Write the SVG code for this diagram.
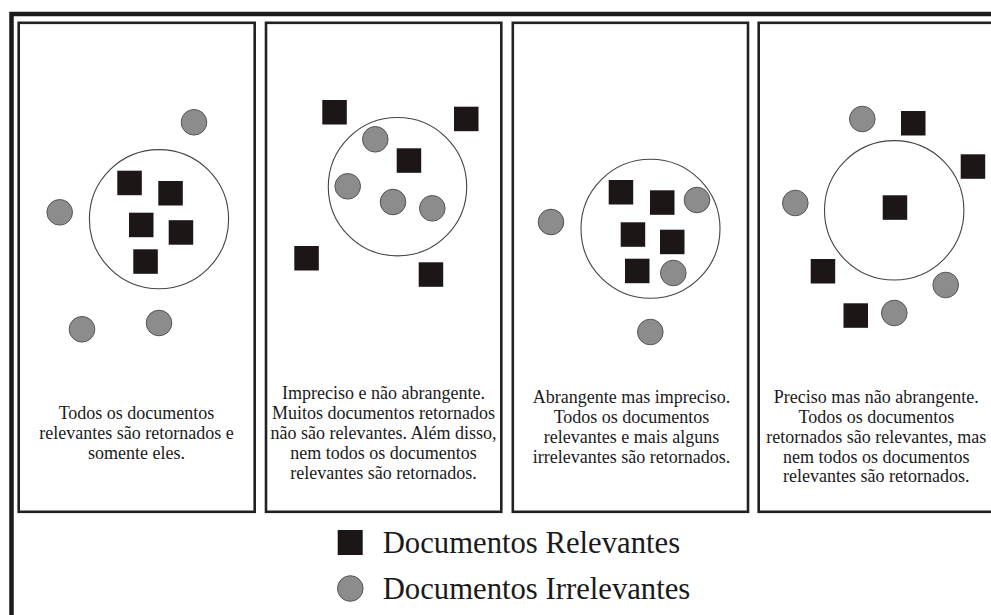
<svg xmlns="http://www.w3.org/2000/svg" width="991" height="615" viewBox="0 0 991 615">
<style>
.frame{fill:none;stroke:#1c1a1a;stroke-width:4.5}
.panel{fill:#ffffff;stroke:#222;stroke-width:2.6}
.set{fill:none;stroke:#444;stroke-width:1.1}
.rel{fill:#1c1616}
.irr{fill:#8c8c8c;stroke:#555;stroke-width:1}
.cap{font-family:"Liberation Serif","Times New Roman",serif;font-size:18px;fill:#1a1a1a;text-anchor:middle}
.leg{font-family:"Liberation Serif","Times New Roman",serif;font-size:30.7px;fill:#1a1a1a}
</style>
<defs>
<rect id="sq" width="24.5" height="24.5" class="rel"/>
<circle id="dot" r="12.8" class="irr"/>
</defs>
<rect width="991" height="615" fill="#ffffff"/>
<rect class="frame" x="11.5" y="14" width="1000" height="700"/>
<g id="panel1">
<rect class="panel" x="18.7" y="22.8" width="236" height="489"/>
<circle class="set" cx="159" cy="219.2" r="69.6"/>
<use href="#sq" x="117.3" y="170.7"/>
<use href="#sq" x="158.3" y="181"/>
<use href="#sq" x="129" y="212.7"/>
<use href="#sq" x="168.7" y="220.2"/>
<use href="#sq" x="133.3" y="249.3"/>
<use href="#dot" x="194" y="122.3"/>
<use href="#dot" x="59.7" y="212.3"/>
<use href="#dot" x="82" y="329.3"/>
<use href="#dot" x="159" y="323"/>
<text class="cap" x="136.5"><tspan x="136.5" y="419">Todos os documentos</tspan><tspan x="136.5" y="439">relevantes são retornados e</tspan><tspan x="136.5" y="459">somente eles.</tspan></text>
</g>
<g id="panel2">
<rect class="panel" x="266" y="22.8" width="235.3" height="489"/>
<circle class="set" cx="397.5" cy="186.7" r="69.2"/>
<use href="#sq" x="322.3" y="100"/>
<use href="#sq" x="454" y="106.7"/>
<use href="#sq" x="396.7" y="148.3"/>
<use href="#sq" x="294.3" y="246"/>
<use href="#sq" x="418.7" y="262.3"/>
<use href="#dot" x="375.3" y="139.3"/>
<use href="#dot" x="347.7" y="186.3"/>
<use href="#dot" x="393" y="202"/>
<use href="#dot" x="432.3" y="208.3"/>
<text class="cap" x="383.5"><tspan x="383.5" y="399">Impreciso e não abrangente.</tspan><tspan x="383.5" y="419">Muitos documentos retornados</tspan><tspan x="383.5" y="439">não são relevantes. Além disso,</tspan><tspan x="383.5" y="459">nem todos os documentos</tspan><tspan x="383.5" y="479">relevantes são retornados.</tspan></text>
</g>
<g id="panel3">
<rect class="panel" x="512.8" y="22.8" width="235.2" height="489"/>
<circle class="set" cx="650.5" cy="228.8" r="69.5"/>
<use href="#sq" x="608.7" y="180"/>
<use href="#sq" x="650" y="190.3"/>
<use href="#sq" x="620.7" y="222.3"/>
<use href="#sq" x="660" y="229.7"/>
<use href="#sq" x="625" y="258.7"/>
<use href="#dot" x="697" y="200"/>
<use href="#dot" x="673.3" y="273"/>
<use href="#dot" x="551" y="222"/>
<use href="#dot" x="650.3" y="332"/>
<text class="cap" x="631.5"><tspan x="631.5" y="403">Abrangente mas impreciso.</tspan><tspan x="631.5" y="423">Todos os documentos</tspan><tspan x="631.5" y="443">relevantes e mais alguns</tspan><tspan x="631.5" y="463">irrelevantes são retornados.</tspan></text>
</g>
<g id="panel4">
<rect class="panel" x="758.7" y="22.8" width="235.5" height="489"/>
<circle class="set" cx="894.2" cy="210.3" r="69.7"/>
<use href="#sq" x="901" y="111"/>
<use href="#sq" x="960.7" y="154.3"/>
<use href="#sq" x="882.7" y="195.3"/>
<use href="#sq" x="810.7" y="259"/>
<use href="#sq" x="843.5" y="303.3"/>
<use href="#dot" x="862.3" y="119"/>
<use href="#dot" x="795.3" y="203"/>
<use href="#dot" x="945.7" y="285"/>
<use href="#dot" x="894.3" y="313"/>
<text class="cap" x="876.3"><tspan x="876.3" y="403">Preciso mas não abrangente.</tspan><tspan x="876.3" y="423">Todos os documentos</tspan><tspan x="876.3" y="442.5">retornados são relevantes, mas</tspan><tspan x="876.3" y="462.5">nem todos os documentos</tspan><tspan x="876.3" y="482">relevantes são retornados.</tspan></text>
</g>
<g id="legend">
<rect class="rel" x="337.7" y="530" width="25" height="25"/>
<circle class="irr" cx="350.3" cy="588.5" r="12.8"/>
<text class="leg" x="382.7" y="553.3">Documentos Relevantes</text>
<text class="leg" x="382.7" y="599.3">Documentos Irrelevantes</text>
</g>
<g id="connectors"/>
</svg>
